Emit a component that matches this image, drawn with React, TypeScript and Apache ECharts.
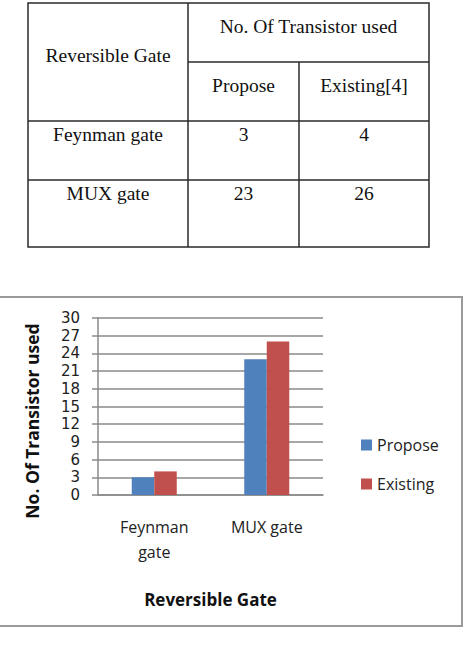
import React, { useEffect, useRef } from "react";
import * as echarts from "echarts";

const categories = ["Feynman gate", "MUX gate"];
const proposeValues = [3, 23];
const existingValues = [4, 26];
const seriesNames = ["Propose", "Existing"];
const tableHeaderMain = "No. Of Transistor used";
const tableHeaderFirst = "Reversible Gate";
const tableColHeaders = ["Propose", "Existing[4]"];
const yAxisTitle = "No. Of Transistor used";
const xAxisTitle = "Reversible Gate";

export default function App() {
  const ref = useRef<HTMLDivElement>(null);
  useEffect(() => {
    if (!ref.current) return;
    const chart = echarts.init(ref.current, null, { renderer: "svg" });

    // table geometry
    const tL = 28, tR = 429, tT = 3, tB = 247;
    const c1 = 188, c2 = 299;
    const r1 = 62, r2 = 121, r3 = 180;
    const lineStyle = { stroke: "#2a2a2a", lineWidth: 1.5 };
    const serif = "'Liberation Serif', 'Times New Roman', serif";
    const cellText = (text: string, x: number, y: number) => ({
      type: "text",
      x,
      y,
      style: {
        text,
        fill: "#111",
        font: `19.5px ${serif}`,
        textAlign: "center",
        textVerticalAlign: "middle",
      },
    });
    const colCenters = [(tL + c1) / 2, (c1 + c2) / 2, (c2 + tR) / 2];
    const rowTextY = [r2 + 13, r3 + 13];

    const sans = "'Open Sans', sans-serif";
    const elements: any[] = [
      { type: "rect", shape: { x: tL, y: tT, width: tR - tL, height: tB - tT }, style: { fill: "none", ...lineStyle } },
      { type: "line", shape: { x1: c1, y1: tT, x2: c1, y2: tB }, style: lineStyle },
      { type: "line", shape: { x1: c2, y1: r1, x2: c2, y2: tB }, style: lineStyle },
      { type: "line", shape: { x1: c1, y1: r1, x2: tR, y2: r1 }, style: lineStyle },
      { type: "line", shape: { x1: tL, y1: r2, x2: tR, y2: r2 }, style: lineStyle },
      { type: "line", shape: { x1: tL, y1: r3, x2: tR, y2: r3 }, style: lineStyle },
      cellText(tableHeaderMain, (c1 + tR) / 2, 26),
      cellText(tableHeaderFirst, colCenters[0], 55),
      cellText(tableColHeaders[0], colCenters[1], 85),
      cellText(tableColHeaders[1], colCenters[2], 85),
    ];
    categories.forEach((cat, i) => {
      elements.push(cellText(cat, colCenters[0], rowTextY[i]));
      elements.push(cellText(String(proposeValues[i]), colCenters[1], rowTextY[i]));
      elements.push(cellText(String(existingValues[i]), colCenters[2], rowTextY[i]));
    });
    // chart frame
    elements.push({
      type: "polyline",
      shape: { points: [[0, 297], [462, 297], [462, 626], [0, 626]] },
      style: { fill: "none", stroke: "#9a9a9a", lineWidth: 2 },
    });
    // y axis title
    elements.push({
      type: "text",
      x: 32,
      y: 421,
      rotation: Math.PI / 2,
      style: {
        text: yAxisTitle,
        fill: "#111",
        font: `bold 17.5px ${sans}`,
        textAlign: "center",
        textVerticalAlign: "middle",
      },
    });

    chart.setOption({
      animation: false,
      backgroundColor: "#fff",
      graphic: elements,
      grid: { left: 98, top: 318, width: 225, height: 177 },
      legend: {
        orient: "vertical",
        left: 356,
        top: 432,
        itemWidth: 11,
        itemHeight: 11,
        itemGap: 23,
        icon: "rect",
        data: seriesNames,
        textStyle: { fontFamily: sans, fontSize: 16, color: "#222", padding: [0, 0, 0, 0] },
      },
      xAxis: {
        type: "category",
        data: categories,
        name: xAxisTitle,
        nameLocation: "middle",
        nameGap: 96,
        nameTextStyle: { fontFamily: sans, fontSize: 17, fontWeight: "bold", color: "#111" },
        axisLine: { show: true, lineStyle: { color: "#8a8a8a", width: 1.5 } },
        axisTick: { show: false },
        axisLabel: {
          margin: 19,
          fontFamily: sans,
          fontSize: 16,
          color: "#222",
          lineHeight: 25,
          formatter: (v: string) => (v.length > 10 ? v.replace(" ", "\n") : v),
        },
      },
      yAxis: {
        type: "value",
        min: 0,
        max: 30,
        interval: 3,
        axisLine: { show: true, lineStyle: { color: "#8a8a8a", width: 1.5 } },
        axisTick: { show: true, length: 6, lineStyle: { color: "#8a8a8a", width: 1.5 } },
        splitLine: { show: true, lineStyle: { color: "#8a8a8a", width: 1.5 } },
        axisLabel: {
          margin: 18,
          fontFamily: "'DejaVu Sans', sans-serif",
          fontSize: 15,
          lineHeight: 15,
          color: "#222",
        },
      },
      series: [
        {
          name: seriesNames[0],
          type: "bar",
          data: proposeValues,
          barWidth: "20%",
          barGap: "0%",
          itemStyle: { color: "#4F81BD" },
        },
        {
          name: seriesNames[1],
          type: "bar",
          data: existingValues,
          barWidth: "20%",
          barGap: "0%",
          itemStyle: { color: "#C0504D" },
        },
      ],
    });
    return () => chart.dispose();
  }, []);
  return (
    <div
      ref={ref}
      style={{ position: "absolute", left: 0, top: 0, width: 465, height: 645 }}
    />
  );
}
